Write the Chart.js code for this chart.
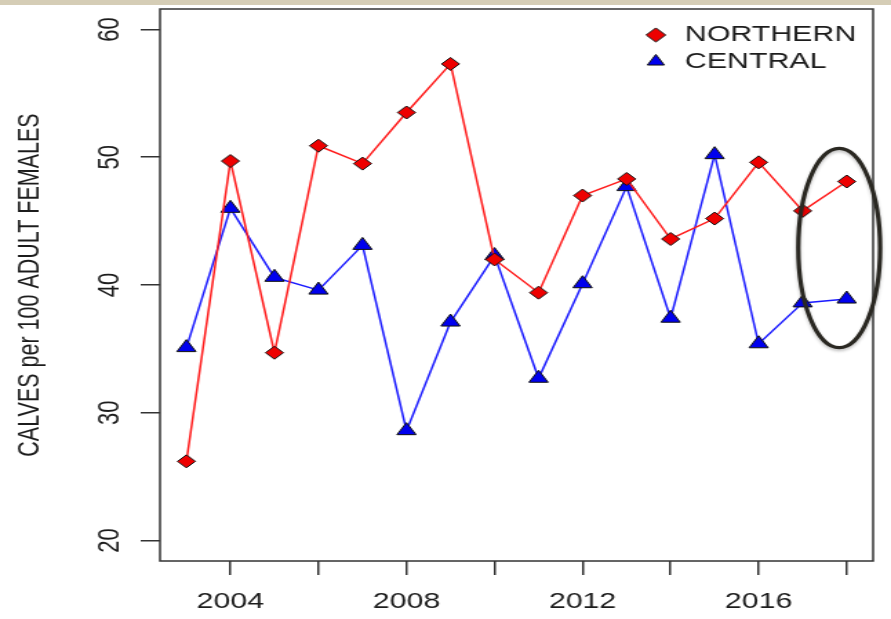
<!DOCTYPE html>
<html>
<head>
<meta charset="utf-8">
<script src="https://cdn.jsdelivr.net/npm/chart.js@4.4.1/dist/chart.umd.min.js"></script>
<style>
  html, body { margin: 0; padding: 0; background: #fff; overflow: hidden; }
  #strip { position: absolute; left: 0; top: 0; width: 891px; height: 5px; background: #d5cdb6; }
  #wrap { position: absolute; left: 0; top: 0; width: 646px; height: 619px;
          transform: scaleX(1.3793); transform-origin: 0 0; }
</style>
</head>
<body>
<div id="strip"></div>
<div id="wrap"><canvas id="calves"></canvas></div>
<script>
// survey years and calf ratios (calves per 100 adult females)
const years = [2003, 2004, 2005, 2006, 2007, 2008, 2009, 2010, 2011, 2012, 2013, 2014, 2015, 2016, 2017, 2018];
const northern = [26.2, 49.7, 34.7, 50.9, 49.5, 53.5, 57.3, 42.0, 39.4, 47.0, 48.3, 43.6, 45.2, 49.6, 45.8, 48.1];
const central = [35.1, 46.0, 40.6, 39.6, 43.1, 28.6, 37.1, 42.3, 32.7, 40.1, 47.7, 37.4, 50.2, 35.4, 38.6, 38.9];

const xTicks = [2004, 2006, 2008, 2010, 2012, 2014, 2016, 2018];
const xLabels = [2004, 2008, 2012, 2016];
const yTicks = [20, 30, 40, 50, 60];

// hand-drawn ring around the last survey year
const ring = { x: 2017.83, y: 42.9, dx: 0.93, dy: 7.8 };

const ink = "#1c1c1c";
Chart.defaults.font.family = "'Liberation Sans', Arial, sans-serif";
Chart.defaults.color = ink;

const boxPlugin = {
    id: "box",
    afterLayout(chart) {
        // legend sits inside the plot, top right
        const lg = chart.legend, a = chart.chartArea;
        const w = lg.width, h = lg.height;
        lg.left = a.right - 172;
        lg.right = lg.left + w;
        lg.top = a.top + 10.5;
        lg.bottom = lg.top + h;
    },
    afterDraw(chart) {
        const ctx = chart.ctx, a = chart.chartArea;
        ctx.save();
        ctx.strokeStyle = "#333";
        ctx.lineWidth = 1.5;
        ctx.strokeRect(a.left, a.top, a.right - a.left, a.bottom - a.top);

        const xs = chart.scales.x, ys = chart.scales.y;
        const cx = xs.getPixelForValue(ring.x);
        const cy = ys.getPixelForValue(ring.y);
        const rx = xs.getPixelForValue(ring.x + ring.dx) - cx;
        const ry = cy - ys.getPixelForValue(ring.y + ring.dy);
        ctx.shadowColor = "rgba(0,0,0,0.25)";
        ctx.shadowBlur = 3;
        ctx.shadowOffsetY = 2;
        ctx.strokeStyle = "#2a2822";
        ctx.lineWidth = 3.2;
        ctx.beginPath();
        ctx.ellipse(cx, cy, rx, ry, 0, 0, Math.PI * 2);
        ctx.stroke();
        ctx.restore();
    }
};

new Chart(document.getElementById("calves"), {
    type: "line",
    data: {
        datasets: [{
            label: "NORTHERN",
            data: years.map((yr, i) => ({ x: yr, y: northern[i] })),
            borderColor: "#ff1a1a",
            borderWidth: 1.5,
            backgroundColor: "#ee0000",
            pointStyle: "rectRot",
            pointRadius: 6.5,
            pointBorderColor: "#111",
            pointBorderWidth: 1,
            tension: 0
        },
        {
            label: "CENTRAL",
            data: years.map((yr, i) => ({ x: yr, y: central[i] })),
            borderColor: "#1a1aff",
            borderWidth: 1.5,
            backgroundColor: "#0000ee",
            pointStyle: "triangle",
            pointRadius: 8,
            pointBorderColor: "#111",
            pointBorderWidth: 1,
            tension: 0
        }]
    },
    options: {
        responsive: true,
        maintainAspectRatio: false,
        animation: false,
        layout: { padding: { left: 0, top: 9, right: 13, bottom: 0 } },
        plugins: {
            tooltip: { enabled: false },
            legend: {
                position: "chartArea",
                align: "start",
                labels: {
                    usePointStyle: true,
                    boxWidth: 20,
                    boxHeight: 10,
                    padding: 4.5,
                    font: { size: 22 },
                    color: ink
                }
            }
        },
        scales: {
            x: {
                type: "linear",
                min: 2002.4,
                max: 2018.6,
                afterFit: s => { s.height = 58; s.paddingLeft = 0; s.paddingRight = 0; },
                afterBuildTicks: s => { s.ticks = xTicks.map(v => ({ value: v })); },
                border: { display: false },
                grid: { drawOnChartArea: false, drawTicks: true, tickLength: 14, color: "#333", lineWidth: 1.5 },
                ticks: {
                    autoSkip: false,
                    maxRotation: 0,
                    padding: 14,
                    font: { size: 22 },
                    callback: v => xLabels.includes(v) ? String(v) : ""
                }
            },
            y: {
                min: 18.4,
                max: 61.6,
                afterFit: s => { s.width = 116; s.paddingTop = 0; s.paddingBottom = 0; },
                afterBuildTicks: s => { s.ticks = yTicks.map(v => ({ value: v })); },
                border: { display: false },
                grid: { drawOnChartArea: false, drawTicks: true, tickLength: 14, color: "#333", lineWidth: 1.5 },
                title: {
                    display: true,
                    text: "CALVES per 100 ADULT FEMALES",
                    font: { size: 21.5 },
                    padding: { top: 9.5, bottom: 0 }
                },
                ticks: {
                    minRotation: 90,
                    maxRotation: 90,
                    crossAlign: "center",
                    padding: 10.3,
                    font: { size: 22 },
                    callback: v => String(v)
                }
            }
        }
    },
    plugins: [boxPlugin]
});
</script>
</body>
</html>
